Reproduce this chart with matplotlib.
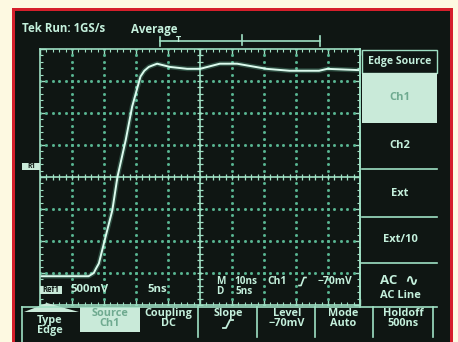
import numpy as np
import matplotlib
matplotlib.use('Agg')
import matplotlib.pyplot as plt
from matplotlib.patches import Rectangle, Polygon

# waveform (5 ns/div, 500 mV/div)
time_ns = [-24.8, -18.2, -17.4, -16.6, -16.3, -15.8, -15.0, -13.7, -12.9, -11.6, -10.6,
           -9.3, -8.7, -8.0, -7.5, -6.7, -4.7, -2.0, 0.0, 3.1, 5.8, 10.4, 14.0, 18.6, 19.9, 24.8]
volts = [-1.55, -1.55, -1.55, -1.50, -1.44, -1.35, -1.03, -0.52, 0.0, 0.58, 1.10,
         1.57, 1.66, 1.72, 1.74, 1.77, 1.72, 1.69, 1.69, 1.77, 1.77, 1.69, 1.66, 1.66, 1.69, 1.67]

side_menu = ['Ch2', 'Ext', 'Ext/10']
bottom_menu = [('Coupling', 'DC'), ('Level', '\u221270mV'), ('Mode', 'Auto'), ('Holdoff', '500ns')]

W, H = 458, 342
cream = '#fdf9e1'
screen = '#0f1613'
mint = '#c4f0dc'
line_c = '#9fe0c4'
dot_c = '#5ab894'
hl = '#c9ead9'
hl_txt = '#6faa90'
plt.rcParams['font.family'] = ['Open Sans', 'DejaVu Sans']

fig = plt.figure(figsize=(W / 100, H / 100), dpi=100, facecolor=cream)

bg = fig.add_axes([0, 0, 1, 1])
bg.set_xlim(0, W)
bg.set_ylim(H, 0)
bg.axis('off')
bg.add_patch(Rectangle((12, 8), 441, 340, color='#d51f2b', lw=0))
bg.add_patch(Rectangle((15, 11), 435, 340, color=screen, lw=0))

# graticule axes: 10 x 8 divisions
ax = fig.add_axes([40 / W, (H - 305) / H, 320 / W, 256 / H])
ax.set_facecolor('none')
ax.set_xlim(-25, 25)
ax.set_ylim(-2, 2)
for s in ax.spines.values():
    s.set_color(line_c)
    s.set_linewidth(1.2)
ax.set_xticks(np.arange(-25, 26, 5))
ax.set_yticks(np.arange(-2, 2.1, 0.5))
ax.set_xticks(np.arange(-25, 26, 1), minor=True)
ax.set_yticks(np.arange(-2, 2.01, 0.1), minor=True)
ax.tick_params(which='both', direction='in', colors=line_c, top=True, right=True,
               labelbottom=False, labelleft=False)
ax.tick_params(which='major', length=4, width=1)
ax.tick_params(which='minor', length=2, width=0.8)

minor_x = np.arange(-25, 25.01, 1)
minor_y = np.arange(-2, 2.01, 0.1)
for gx in np.arange(-20, 21, 5):
    if gx != 0:
        ax.plot(np.full_like(minor_y, gx), minor_y, ls='none', marker='s', ms=1.0, color=dot_c)
for gy in np.arange(-1.5, 1.6, 0.5):
    if gy != 0:
        ax.plot(minor_x, np.full_like(minor_x, gy), ls='none', marker='s', ms=1.0, color=dot_c)
ax.axhline(0, color=line_c, lw=1.2)
ax.axvline(0, color=line_c, lw=1.2)
ax.plot(minor_x, np.zeros_like(minor_x), ls='none', marker='|', ms=4, mew=0.9, color=line_c)
ax.plot(np.zeros_like(minor_y), minor_y, ls='none', marker='_', ms=4, mew=0.9, color=line_c)

ax.plot(time_ns, volts, color='#7fe8c0', lw=3.5, alpha=0.25, solid_capstyle='round')
ax.plot(time_ns, volts, color='#dcfbee', lw=1.4, solid_capstyle='round')

# overlay: readouts and menus in pixel coords
ov = fig.add_axes([0, 0, 1, 1])
ov.set_facecolor('none')
ov.set_xlim(0, W)
ov.set_ylim(H, 0)
ov.axis('off')

def txt(x, y, s, ha='center', size=8, color=mint):
    ov.text(x, y, s, ha=ha, va='center', fontsize=size, fontweight='bold', color=color)

def hline(y, x0, x1):
    ov.plot([x0, x1], [y, y], color=line_c, lw=1.2)

def vline(x, y0, y1):
    ov.plot([x, x], [y0, y1], color=line_c, lw=1.2)

txt(22, 29, 'Tek Run: 1GS/s', ha='left', size=8.3)
txt(131, 29, 'Average', ha='left', size=8.3)
hline(41, 160, 320)
vline(160, 37, 46)
vline(242, 35, 45)
vline(320, 36, 46)
txt(178, 40, 'T', size=6.5)

# right-hand menu
ov.add_patch(Rectangle((362, 50), 75, 23, fill=False, ec=line_c, lw=1))
txt(400, 61.5, 'Edge Source', size=7.6)
ov.add_patch(Rectangle((362, 73), 75, 50, color=hl, lw=0))
txt(400, 98, 'Ch1', color=hl_txt, size=8)
for y, lab in zip([146, 193, 240], side_menu):
    txt(400, y, lab, size=8)
hline(169, 362, 437)
hline(217, 362, 437)
hline(263, 360, 437)
txt(389, 281, 'AC', size=9.5)
ov.text(411, 281, '\u223f', ha='center', va='center', fontsize=12, fontweight='bold',
        color=mint, family='DejaVu Sans')
txt(400, 296, 'AC Line', size=8)
vline(360, 49, 307)

# bottom menu
hline(307, 22, 437)
vline(22, 307, 342)
for x in [198, 257, 315, 373, 433]:
    vline(x, 307, 337)
ov.add_patch(Polygon([(24, 312), (47, 303), (79, 312)], closed=True, color=hl, lw=0))
txt(50, 320, 'Type', size=7.8)
txt(50, 330, 'Edge', size=7.8)
ov.add_patch(Rectangle((80, 307), 60, 25, color=hl, lw=0))
txt(110, 313.5, 'Source', color=hl_txt, size=7.8)
txt(110, 323.5, 'Ch1', color=hl_txt, size=7.8)
txt(228, 313.5, 'Slope', size=7.8)
ov.plot([223, 226, 230, 233], [328, 328, 320, 320], color=mint, lw=1.3)
for x, (a, b) in zip([168, 287, 343, 403], bottom_menu):
    txt(x, 313.5, a, size=7.8)
    txt(x, 323.5, b, size=7.8)

# bottom readouts
ov.add_patch(Rectangle((40, 286), 22, 8, color=hl, lw=0))
txt(51, 290, 'Ref1', size=5.5, color=screen)
txt(70, 289.5, '500mV', ha='left', size=8.2)
txt(147, 289.5, '5ns', ha='left', size=8.2)
txt(216, 281, 'M', ha='left', size=7.2)
txt(216, 291.5, 'D', ha='left', size=7.2)
txt(234, 281, '10ns', ha='left', size=7.2)
txt(236, 291.5, '5ns', ha='left', size=7.2)
txt(267, 281.5, 'Ch1', ha='left', size=7.5)
ov.plot([299, 301, 304, 306], [285.5, 285.5, 277.5, 277.5], color=mint, lw=1.2)
txt(318, 281.5, '\u221270mV', ha='left', size=7.5)

# reference marker
ov.add_patch(Rectangle((22, 163), 18, 7, color=hl, lw=0))
txt(31, 166.5, 'R1', size=4.8, color=screen)

fig.savefig('out.png', dpi=100, facecolor=cream)
